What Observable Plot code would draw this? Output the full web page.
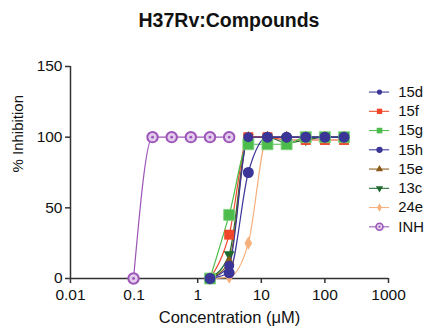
<!DOCTYPE html>
<html>
<head>
<meta charset="utf-8">
<script src="https://cdn.jsdelivr.net/npm/d3@7"></script>
<script src="https://cdn.jsdelivr.net/npm/@observablehq/plot@0.6"></script>
<style>
  html, body { margin: 0; padding: 0; background: #fff; }
  body { width: 432px; height: 333px; position: relative; overflow: hidden; font-family: "Liberation Sans", Arial, sans-serif; }
  #title { position: absolute; left: 0; top: 8px; width: 458px; text-align: center; font-weight: bold; font-size: 19.5px; line-height: 24px; color: #111; }
  #chart { position: absolute; left: 0; top: 0; }
  #legend { position: absolute; left: 362px; top: 68px; }
</style>
</head>
<body>
<div id="chart"></div>
<div id="legend"></div>
<div id="title">H37Rv:Compounds</div>
<script>
// Concentrations (µM)
const conc = [1.56, 3.125, 6.25, 12.5, 25, 50, 100, 200];
const inhConc = [0.098, 0.195, 0.39, 0.78, 1.56, 3.125];

// % Inhibition per compound
const v15d = [0, 9, 100, 100, 100, 100, 100, 100];
const v15f = [0, 31, 100, 100, 98, 98, 98, 98];
const v15g = [0, 45, 95, 95, 95, 100, 100, 100];
const v15h = [0, 4, 75, 100, 100, 100, 100, 100];
const v15e = [0, 12, 100, 100, 100, 100, 100, 100];
const v13c = [0, 17, 100, 100, 96, 98, 100, 100];
const v24e = [0, 1, 25, 100, 100, 100, 100, 100];
const vINH = [0, 100, 100, 100, 100, 100];

// Legend / series styling
const names   = ["15d", "15f", "15g", "15h", "15e", "13c", "24e", "INH"];
const colors  = ["#3a3597", "#f0472a", "#4cbd4c", "#3a3597", "#8a5a18", "#1e6a2c", "#f6b07c", "#9c55b8"];
const symbols = ["circle", "square", "square", "circle", "triangle", "triangle", "diamond", "circle"];
const rotates = [0, 0, 0, 0, 0, 180, 0, 0];
const plotSizes = [5, 5.6, 6.2, 5.5, 4, 4, 4, 5.5];
const legendSizes = [3.3, 4.5, 5, 5, 3.6, 3.6, 3.3, 4];

const xTicks = [0.01, 0.1, 1, 10, 100, 1000];
const yTicks = [0, 50, 100, 150];
const xLabel = "Concentration (μM)";
const yLabel = "% Inhibition";

const seriesValues = { "15d": v15d, "15f": v15f, "15g": v15g, "15h": v15h, "15e": v15e, "13c": v13c, "24e": v24e, "INH": vINH };
const drawOrder = ["24e", "13c", "15e", "15f", "15g", "15d", "15h", "INH"];

const rows = [];
for (const n of names) {
  const xs = n === "INH" ? inhConc : conc;
  seriesValues[n].forEach((v, i) => rows.push({ name: n, conc: xs[i], value: v }));
}

const marks = [];
for (const n of drawOrder) {
  const k = names.indexOf(n);
  const data = rows.filter(r => r.name === n);
  marks.push(Plot.line(data, { x: "conc", y: "value", stroke: colors[k], strokeWidth: 1.2, curve: "monotone-x" }));
}
for (const n of drawOrder) {
  const k = names.indexOf(n);
  const data = rows.filter(r => r.name === n);
  if (n === "INH") {
    marks.push(Plot.dot(data, { x: "conc", y: "value", r: 5.2, stroke: colors[k], strokeWidth: 2, fill: "#e3cdec" }));
    marks.push(Plot.dot(data, { x: "conc", y: "value", r: 1.4, fill: colors[k] }));
  } else {
    marks.push(Plot.dot(data, { x: "conc", y: "value", r: plotSizes[k], symbol: () => symbols[k], fill: colors[k], rotate: rotates[k], stroke: n === "15g" ? "#7dd07d" : "none", strokeWidth: 0.8 }));
  }
}

const font = "'Liberation Sans', Arial, sans-serif";
const chart = Plot.plot({
  width: 432,
  height: 333,
  marginLeft: 70,
  marginRight: 44,
  marginTop: 66,
  marginBottom: 55,
  style: { fontFamily: font, fontSize: "15.5px", color: "#111", background: "transparent" },
  x: { type: "log", domain: [0.01, 1000] },
  y: { domain: [0, 150] },
  symbol: { type: "identity" },
  marks: [
    Plot.axisX({ ticks: xTicks, tickFormat: d => String(d), tickSize: 5, tickPadding: 5, label: null, fontSize: 15.5, stroke: "#333", strokeWidth: 1.5 }),
    Plot.axisY({ ticks: yTicks, tickSize: 5, tickPadding: 3, label: null, fontSize: 15.5, stroke: "#333", strokeWidth: 1.5 }),
    Plot.text([xLabel], { text: d => d, frameAnchor: "bottom", dy: 44, fontSize: 16.5, fill: "#111" }),
    Plot.text([yLabel], { text: d => d, frameAnchor: "left", rotate: -90, dx: -52, fontSize: 15, fill: "#111" }),
    Plot.ruleY([0], { stroke: "#333", strokeWidth: 1.5 }),
    Plot.ruleX([0.01], { stroke: "#333", strokeWidth: 1.5 }),
    ...marks
  ]
});
document.getElementById("chart").append(chart);

// Legend
const legRows = names.map((n, k) => ({ name: n, k }));
const legend = Plot.plot({
  width: 80,
  height: 210,
  margin: 0,
  x: { domain: [0, 1], range: [8, 31], axis: null },
  y: { type: "point", domain: names, range: [13, 195], axis: null },
  symbol: { type: "identity" },
  style: { fontFamily: font, fontSize: "17px", color: "#111", background: "transparent", overflow: "visible" },
  marks: [
    Plot.ruleY(legRows, { y: "name", x1: 0, x2: 1, stroke: d => colors[d.k], strokeWidth: 1.2 }),
    Plot.dot(legRows.filter(d => d.name !== "INH"), { x: 0.5, y: "name", r: d => legendSizes[d.k], symbol: d => symbols[d.k], fill: d => colors[d.k], rotate: d => rotates[d.k] }),
    Plot.dot(legRows.filter(d => d.name === "INH"), { x: 0.5, y: "name", r: 4, stroke: d => colors[d.k], strokeWidth: 1.8, fill: "#e3cdec" }),
    Plot.dot(legRows.filter(d => d.name === "INH"), { x: 0.5, y: "name", r: 1.2, fill: d => colors[d.k] }),
    Plot.text(legRows, { x: 1, y: "name", text: "name", dx: 10, textAnchor: "start", fontSize: 17, fill: "#111" })
  ]
});
document.getElementById("legend").append(legend);
</script>
</body>
</html>
